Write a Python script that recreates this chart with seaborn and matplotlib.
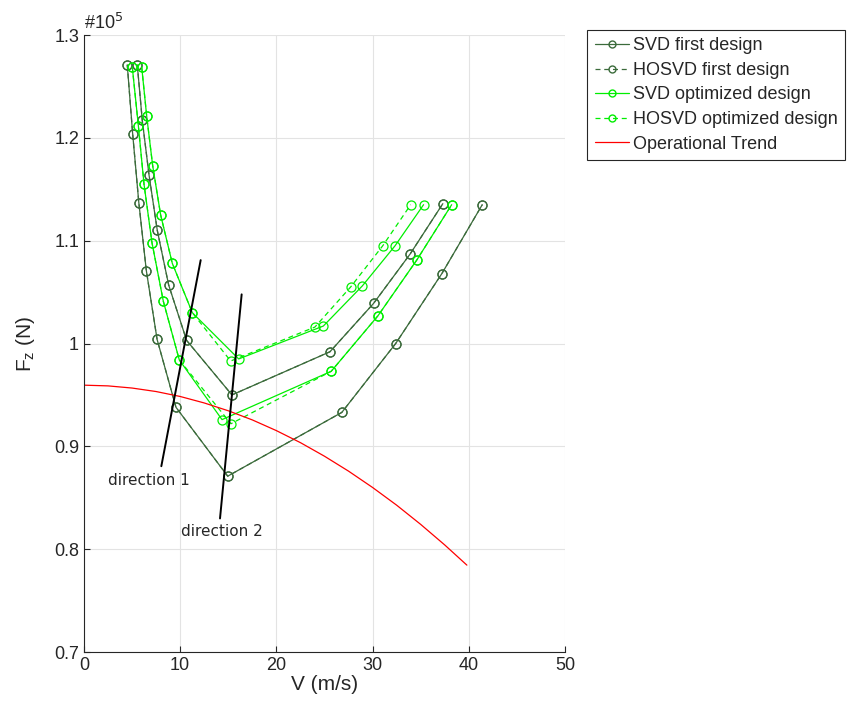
import pandas as pd
import matplotlib
matplotlib.use('Agg')
import matplotlib.pyplot as plt
from matplotlib.lines import Line2D
import seaborn as sns

# values in units of 1e5 N
# first design, lower branch
v_first_low = [4.5, 5.06, 5.7, 6.48, 7.6, 9.56, 14.94, 26.8, 32.4, 37.2, 41.4]
fz_first_low = [1.271, 1.204, 1.137, 1.071, 1.004, 0.938, 0.871, 0.933, 1.000, 1.068, 1.135]
# first design, upper branch
v_first_up = [5.54, 6.06, 6.76, 7.62, 8.8, 10.67, 15.38, 25.57, 30.1, 33.9, 37.3]
fz_first_up = [1.271, 1.217, 1.164, 1.110, 1.057, 1.003, 0.950, 0.992, 1.039, 1.087, 1.136]

# optimized design, SVD
v_opt_svd_low = [5.02, 5.65, 6.24, 7.07, 8.25, 9.91, 14.35, 25.7, 30.56, 34.58, 38.22]
fz_opt_svd_low = [1.269, 1.212, 1.155, 1.098, 1.041, 0.984, 0.926, 0.973, 1.027, 1.081, 1.135]
v_opt_svd_up = [6.0, 6.52, 7.14, 7.97, 9.18, 11.26, 16.08, 24.88, 28.93, 32.33, 35.3]
fz_opt_svd_up = [1.269, 1.221, 1.173, 1.125, 1.078, 1.030, 0.985, 1.017, 1.056, 1.095, 1.135]

# optimized design, HOSVD
v_opt_hosvd_low = [5.02, 5.65, 6.24, 7.07, 8.25, 9.91, 15.28, 25.7, 30.56, 34.58, 38.22]
fz_opt_hosvd_low = [1.269, 1.212, 1.155, 1.098, 1.041, 0.984, 0.922, 0.973, 1.027, 1.081, 1.135]
v_opt_hosvd_up = [6.0, 6.52, 7.14, 7.97, 9.18, 11.26, 15.25, 24.0, 27.72, 31.05, 33.96]
fz_opt_hosvd_up = [1.269, 1.221, 1.173, 1.125, 1.078, 1.030, 0.983, 1.016, 1.055, 1.095, 1.135]

# operational trend
v_trend = [0, 2.5, 5, 7.5, 10, 12.5, 15, 17.5, 20, 22.5, 25, 27.5, 30, 32.5, 35, 37.5, 39.8]
fz_trend = [0.9595, 0.9588, 0.9567, 0.9533, 0.9485, 0.9422, 0.9346, 0.9257, 0.9153,
            0.9036, 0.8904, 0.8759, 0.8600, 0.8428, 0.8241, 0.8041, 0.7845]

# direction lines (end points)
dir1_v = [8.04, 12.13]
dir1_fz = [0.8807, 1.0811]
dir2_v = [14.14, 16.39]
dir2_fz = [0.8299, 1.0478]

dark_green = '#3b6b3b'
bright_green = '#00ee00'

sns.set_theme(style='white')
plt.rcParams['font.family'] = ['Liberation Sans', 'DejaVu Sans']


def make_df(v_low, fz_low, v_up, fz_up):
    low = pd.DataFrame({'V': v_low, 'Fz': fz_low, 'branch': 'low'})
    up = pd.DataFrame({'V': v_up, 'Fz': fz_up, 'branch': 'up'})
    return pd.concat([low, up], ignore_index=True)


series = [
    ('SVD first design', make_df(v_first_low, fz_first_low, v_first_up, fz_first_up), dark_green, '-'),
    ('HOSVD first design', make_df(v_first_low, fz_first_low, v_first_up, fz_first_up), dark_green, (0, (4, 3))),
    ('SVD optimized design', make_df(v_opt_svd_low, fz_opt_svd_low, v_opt_svd_up, fz_opt_svd_up), bright_green, '-'),
    ('HOSVD optimized design', make_df(v_opt_hosvd_low, fz_opt_hosvd_low, v_opt_hosvd_up, fz_opt_hosvd_up), bright_green, (0, (4, 3))),
]

fig = plt.figure(figsize=(8.5, 7.15), dpi=100)
ax = fig.add_axes([0.0988, 0.0881, 0.5659, 0.8629])

handles = []
for name, df, color, ls in series:
    sns.lineplot(data=df, x='V', y='Fz', units='branch', estimator=None, sort=False,
                 color=color, linestyle=ls, linewidth=0.9, marker='o', markersize=6.5,
                 markerfacecolor='none', markeredgecolor=color, markeredgewidth=0.9, ax=ax)
    handles.append(Line2D([], [], color=color, linestyle=ls, linewidth=0.9, marker='o',
                          markersize=5, markerfacecolor='none', markeredgecolor=color,
                          label=name))

sns.lineplot(x=v_trend, y=fz_trend, color='red', linewidth=0.9, sort=False, ax=ax)
handles.append(Line2D([], [], color='red', linewidth=0.9, label='Operational Trend'))

sns.lineplot(x=dir1_v, y=dir1_fz, color='black', linewidth=1.4, sort=False, ax=ax)
sns.lineplot(x=dir2_v, y=dir2_fz, color='black', linewidth=1.4, sort=False, ax=ax)
ax.text(6.75, 0.867, 'direction 1', ha='center', va='center', fontsize=11, family='DejaVu Sans')
ax.text(14.35, 0.817, 'direction 2', ha='center', va='center', fontsize=11, family='DejaVu Sans')

ax.set_xlim(0, 50)
ax.set_ylim(0.7, 1.3)
ax.set_xticks([0, 10, 20, 30, 40, 50])
ax.set_yticks([0.7, 0.8, 0.9, 1.0, 1.1, 1.2, 1.3])
ax.set_yticklabels(['0.7', '0.8', '0.9', '1', '1.1', '1.2', '1.3'])
ax.tick_params(direction='in', length=4, width=0.8, labelsize=13, colors='#262626',
               left=True, bottom=True)
ax.grid(True, color='#e3e3e3', linewidth=0.8)
for side in ['top', 'right']:
    ax.spines[side].set_visible(False)
for side in ['left', 'bottom']:
    ax.spines[side].set_color('#262626')
    ax.spines[side].set_linewidth(0.8)

ax.set_xlabel('V (m/s)', fontsize=15, color='#262626', labelpad=1)
ax.set_ylabel(r'$\mathregular{F_z}$ (N)', fontsize=15, color='#262626', labelpad=12)
ax.text(0.0, 1.003, r'#10$^5$', transform=ax.transAxes, fontsize=13, color='#262626',
        ha='left', va='bottom')

leg = fig.legend(handles=handles, loc='upper left', bbox_to_anchor=(0.691, 0.958),
                 fontsize=13, frameon=True, fancybox=False, framealpha=1,
                 edgecolor='#262626', handlelength=1.9, handletextpad=0.25,
                 labelspacing=0.42, borderpad=0.4, borderaxespad=0)
leg.get_frame().set_linewidth(0.8)

fig.savefig('out.png', dpi=100)
